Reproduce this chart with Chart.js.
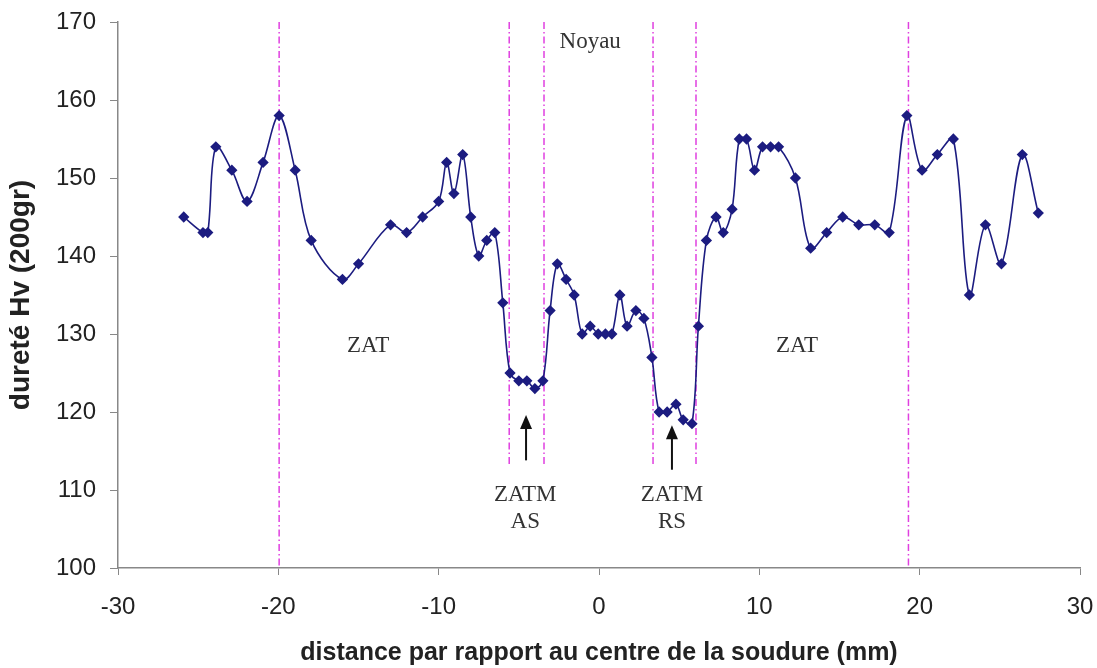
<!DOCTYPE html>
<html>
<head>
<meta charset="utf-8">
<script src="https://cdn.jsdelivr.net/npm/chart.js@4"></script>
<style>
  html, body { margin: 0; padding: 0; background: #fff; }
  #box { width: 1097px; height: 668px; }
</style>
</head>
<body>
<div id="box"><canvas id="chart"></canvas></div>
<script>
// distance au centre de la soudure (mm)
var distances = [-25.9, -24.7, -24.4, -23.9, -22.9, -21.95, -20.95, -19.95, -18.95, -17.95,
    -16.0, -15.0, -13.0, -12.0, -11.0, -10.0, -9.5, -9.05, -8.5, -8.0,
    -7.5, -7.0, -6.5, -6.0, -5.55, -5.0, -4.5, -4.0, -3.5, -3.05,
    -2.6, -2.05, -1.55, -1.05, -0.55, -0.05, 0.4, 0.8, 1.3, 1.75,
    2.3, 2.8, 3.3, 3.75, 4.25, 4.8, 5.25, 5.8, 6.2, 6.7,
    7.3, 7.75, 8.3, 8.75, 9.2, 9.7, 10.2, 10.7, 11.2, 12.25,
    13.2, 14.2, 15.2, 16.2, 17.2, 18.1, 19.2, 20.15, 21.1, 22.1,
    23.1, 24.1, 25.1, 26.4, 27.4];
// dureté Hv
var durete = [145, 143, 143, 154, 151, 147, 152, 158, 151, 142,
    137, 139, 144, 143, 145, 147, 152, 148, 153, 145,
    140, 142, 143, 134, 125, 124, 124, 123, 124, 133,
    139, 137, 135, 130, 131, 130, 130, 130, 135, 131,
    133, 132, 127, 120, 120, 121, 119, 118.5, 131, 142,
    145, 143, 146, 155, 155, 151, 154, 154, 154, 150,
    141, 143, 145, 144, 144, 143, 158, 151, 153, 155,
    135, 144, 139, 153, 145.5];

// limites des zones (mm) et hauteur de fin des traits
var limites = [-19.95, -5.6, -3.43, 3.37, 6.05, 19.3];
var finLimites = [100, 113, 113, 113, 113, 100];

// textes des zones
var zones = [
    { txt: ["Noyau"], x: -0.55, y: 167.4 },
    { txt: ["ZAT"], x: -14.4, y: 128.5 },
    { txt: ["ZAT"], x: 12.35, y: 128.5 },
    { txt: ["ZATM", "AS"], x: -4.6, y: 109.4 },
    { txt: ["ZATM", "RS"], x: 4.55, y: 109.4 }
];
// flèches (x, y bas, y haut)
var fleches = [
    { x: -4.55, y0: 113.8, y1: 119.6 },
    { x: 4.55, y0: 112.6, y1: 118.3 }
];

var points = distances.map(function(d, i) { return { x: d, y: durete[i] }; });

var decor = {
    id: 'decor',
    beforeDatasetsDraw: function(chart) {
        var c = chart.ctx, sx = chart.scales.x, sy = chart.scales.y;
        c.save();
        c.strokeStyle = '#e040e0';
        c.lineWidth = 1.5;
        c.setLineDash([7, 3, 1.5, 3]);
        limites.forEach(function(v, i) {
            var px = sx.getPixelForValue(v);
            c.beginPath();
            c.moveTo(px, sy.getPixelForValue(170));
            c.lineTo(px, sy.getPixelForValue(finLimites[i]));
            c.stroke();
        });
        c.restore();
    },
    afterDatasetsDraw: function(chart) {
        var c = chart.ctx, sx = chart.scales.x, sy = chart.scales.y;
        c.save();
        c.fillStyle = '#333';
        c.font = '23px "Liberation Serif", "Times New Roman", serif';
        c.textAlign = 'center';
        c.textBaseline = 'middle';
        zones.forEach(function(z) {
            var px = sx.getPixelForValue(z.x), py = sy.getPixelForValue(z.y);
            z.txt.forEach(function(t, k) { c.fillText(t, px, py + k * 27); });
        });
        c.strokeStyle = '#111';
        c.fillStyle = '#111';
        c.lineWidth = 2;
        fleches.forEach(function(f) {
            var px = sx.getPixelForValue(f.x);
            var yb = sy.getPixelForValue(f.y0), yt = sy.getPixelForValue(f.y1);
            c.beginPath();
            c.moveTo(px, yb);
            c.lineTo(px, yt + 10);
            c.stroke();
            c.beginPath();
            c.moveTo(px, yt);
            c.lineTo(px - 6, yt + 14);
            c.lineTo(px + 6, yt + 14);
            c.closePath();
            c.fill();
        });
        c.restore();
    }
};

var axisFont = { family: 'Liberation Sans, Arial, sans-serif', size: 24 };

var ctx = document.getElementById('chart').getContext('2d');
new Chart(ctx, {
    type: 'line',
    data: {
        datasets: [{
            data: points,
            borderColor: '#1c1c80',
            backgroundColor: '#1c1c80',
            borderWidth: 1.6,
            pointStyle: 'rectRot',
            pointRadius: 4.5,
            tension: 0.35
        }]
    },
    options: {
        responsive: true,
        maintainAspectRatio: false,
        animation: false,
        layout: { padding: { top: 22, right: 17, left: 0, bottom: 0 } },
        plugins: { legend: { display: false }, tooltip: { enabled: false } },
        scales: {
            x: {
                type: 'linear',
                min: -30, max: 30,
                ticks: { stepSize: 10, color: '#222', font: axisFont, padding: 18 },
                grid: { drawOnChartArea: false, color: '#888', tickLength: 7 },
                border: { color: '#888', width: 1.5 },
                title: { display: true, text: 'distance par rapport au centre de la soudure (mm)',
                    color: '#222', padding: { top: 0, bottom: 0 },
                    font: { family: 'Liberation Sans, Arial, sans-serif', size: 25, weight: 'bold' } },
                afterFit: function(s) {
                    s.height = 100;
                    s.paddingLeft = 0;
                    s.paddingRight = 0;
                }
            },
            y: {
                min: 100, max: 170,
                ticks: { stepSize: 10, color: '#222', font: axisFont, padding: 14 },
                grid: { drawOnChartArea: false, color: '#888', tickLength: 8 },
                border: { color: '#888', width: 1.5 },
                title: { display: true, text: 'dureté Hv (200gr)', color: '#222',
                    font: { family: 'Liberation Sans, Arial, sans-serif', size: 28, weight: 'bold' } },
                afterFit: function(s) {
                    s.width = 118;
                    s.paddingTop = 0;
                    s.paddingBottom = 0;
                }
            }
        }
    },
    plugins: [decor]
});
</script>
</body>
</html>
